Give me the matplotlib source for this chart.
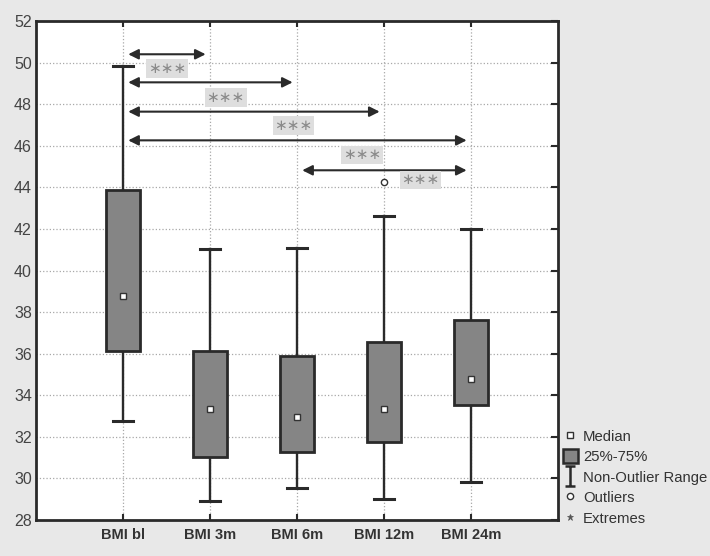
import matplotlib
matplotlib.use("Agg")
import matplotlib.pyplot as plt
from matplotlib.lines import Line2D
from matplotlib.patches import Patch, Rectangle
from matplotlib.path import Path

categories = ["BMI bl", "BMI 3m", "BMI 6m", "BMI 12m", "BMI 24m"]
whisker_low = [32.77, 28.89, 29.55, 29.02, 29.85]
q1 = [36.13, 31.05, 31.28, 31.74, 33.52]
median = [38.75, 33.35, 32.95, 33.35, 34.77]
q3 = [43.86, 36.13, 35.88, 36.55, 37.61]
whisker_high = [49.84, 41.04, 41.07, 42.64, 41.98]
outlier_cat = [3]
outlier_val = [44.24]

# significance arrows: (from category index, to category index, y)
arrow_from = [0, 0, 0, 0, 2]
arrow_to = [1, 2, 3, 4, 4]
arrow_y = [50.4, 49.05, 47.64, 46.26, 44.82]
star_x = [1.51, 2.18, 2.96, 3.75, 4.42]
star_y = [49.73, 48.33, 46.97, 45.56, 44.36]
star_label = "\u2217\u2217\u2217"

yticks = list(range(28, 53, 2))

plt.rcParams['font.family'] = ['Liberation Sans', 'DejaVu Sans']

fig = plt.figure(figsize=(7.10, 5.56), dpi=100, facecolor='#e8e8e8')
ax = fig.add_axes([36/710, 1-520/556, (558-36)/710, (520-21)/556])
ax.set_facecolor('white')

pos = list(range(1, len(categories)+1))
box_w = 0.4
cap_w = 0.22
dark = '#2a2a2a'
for i, p in enumerate(pos):
    ax.plot([p, p], [whisker_low[i], q1[i]], color=dark, lw=1.7, zorder=3)
    ax.plot([p, p], [q3[i], whisker_high[i]], color=dark, lw=1.7, zorder=3)
    ax.plot([p-cap_w/2, p+cap_w/2], [whisker_low[i]]*2, color=dark, lw=2.2, zorder=3)
    ax.plot([p-cap_w/2, p+cap_w/2], [whisker_high[i]]*2, color=dark, lw=2.2, zorder=3)
    ax.add_patch(Rectangle((p-box_w/2, q1[i]), box_w, q3[i]-q1[i],
                           facecolor='#858585', edgecolor=dark, lw=2, zorder=4))
    ax.plot(p, median[i], marker='s', ms=5, mfc='white', mec='#333333', mew=1, zorder=5)

for c, v in zip(outlier_cat, outlier_val):
    ax.plot(pos[c], v, marker='o', ms=4.5, mfc='white', mec='#333333', mew=1, zorder=5)

for a, b, y in zip(arrow_from, arrow_to, arrow_y):
    x0 = pos[a] + 0.06
    x1 = pos[b] - 0.05
    ax.annotate('', xy=(x1, y), xytext=(x0, y),
                arrowprops=dict(arrowstyle='<|-|>', color=dark, lw=1.5,
                                mutation_scale=15, shrinkA=0, shrinkB=0), zorder=6)

for x, y in zip(star_x, star_y):
    ax.text(x, y, star_label, ha='center', va='center', fontsize=11, color='#8a8a8a',
            family='DejaVu Sans',
            bbox=dict(boxstyle='square,pad=0.12', facecolor='#dedede', edgecolor='none'),
            zorder=6)

ax.set_xlim(0, 6)
ax.set_ylim(28, 52)
ax.set_xticks(pos)
ax.set_xticklabels(categories, fontsize=10.5, fontweight='bold', color='#333333')
ax.set_yticks(yticks)
ax.set_yticklabels([str(t) for t in yticks], fontsize=11.5, color='#444444')
ax.grid(True, linestyle=':', color='#a8a8a8', lw=0.9)
ax.set_axisbelow(True)
ax.tick_params(axis='y', which='both', left=False, right=True, direction='in', length=5, width=1.5, color=dark, pad=3)
ax.tick_params(axis='x', which='both', bottom=True, top=True, direction='in', length=4, width=1.5, color=dark, pad=6)
for s in ax.spines.values():
    s.set_linewidth(2)
    s.set_color(dark)

ibeam = Path([(-0.5, -1), (0.5, -1), (0, -1), (0, 1), (-0.5, 1), (0.5, 1)],
             [Path.MOVETO, Path.LINETO, Path.MOVETO, Path.LINETO, Path.MOVETO, Path.LINETO])
handles = [
    Line2D([], [], ls='none', marker='s', ms=5, mfc='white', mec='#333333', mew=1),
    Patch(facecolor='#858585', edgecolor=dark, lw=1.8),
    Line2D([], [], ls='none', marker=ibeam, ms=15, mec=dark, mew=1.8),
    Line2D([], [], ls='none', marker='o', ms=4.5, mfc='white', mec='#333333', mew=1),
    Line2D([], [], ls='none', marker='*', ms=5, mfc='#555555', mec='#555555', mew=0.5),
]
labels = ["Median", "25%-75%", "Non-Outlier Range", "Outliers", "Extremes"]
leg = fig.legend(handles, labels, loc='upper left', bbox_to_anchor=(563/710, 1-429/556),
                 frameon=False, fontsize=10.7, handlelength=1.0, handleheight=1.05,
                 handletextpad=0.35, labelspacing=0.37, borderpad=0, borderaxespad=0)
for t in leg.get_texts():
    t.set_color('#333333')

fig.savefig('out.png', dpi=100, facecolor=fig.get_facecolor())
